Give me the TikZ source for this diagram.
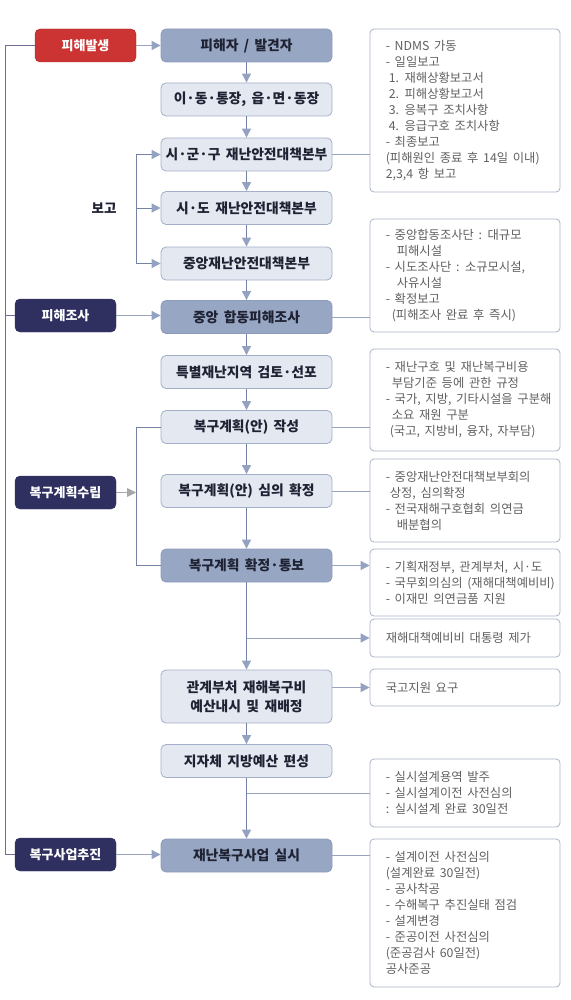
\documentclass[tikz,border=0pt]{standalone}
\usepackage{fontspec}
\setmainfont{Noto Sans CJK KR}[WordSpace=1.7]
\usetikzlibrary{arrows.meta}
\definecolor{redf}{HTML}{CC3333}
\definecolor{redd}{HTML}{A52525}
\definecolor{navy}{HTML}{2F2F60}
\definecolor{cdarkf}{HTML}{97A6C3}
\definecolor{cdarkd}{HTML}{8D9CBB}
\definecolor{clightf}{HTML}{E4E8F1}
\definecolor{clightd}{HTML}{A3AFC8}
\definecolor{rboxd}{HTML}{AAB3C9}
\definecolor{lnc}{HTML}{7482A6}
\definecolor{tipc}{HTML}{94A2C1}
\definecolor{leftln}{HTML}{6B6F9A}
\definecolor{rln}{HTML}{98A3C0}
\definecolor{greyarr}{HTML}{A8A8A8}
\definecolor{ctext}{HTML}{1E2233}
\definecolor{rtextc}{HTML}{606060}
\begin{document}
\begin{tikzpicture}[x=1pt,y=-1pt,
  basebox/.style={rounded corners=5pt, minimum width=171pt, minimum height=33pt, inner sep=0pt,
    font=\bfseries\fontsize{13.8}{19}\selectfont, text=ctext, align=center, line width=0.8pt},
  clight/.style={basebox, draw=clightd, fill=clightf},
  cdark/.style={basebox, draw=cdarkd, fill=cdarkf},
  lbox/.style={rounded corners=5pt, minimum width=101pt, minimum height=33pt, inner sep=0pt,
    font=\bfseries\fontsize{13}{15}\selectfont, text=white, fill=navy, draw=navy},
  redbox/.style={lbox, fill=redf, draw=redd},
  rbox/.style={rounded corners=4pt, minimum width=190pt, draw=rboxd, fill=white, line width=0.8pt, inner sep=0pt},
  rtext/.style={anchor=west, align=left, inner sep=0pt, text=rtextc, font=\fontsize{12.3}{16}\selectfont},
  ln/.style={draw=lnc, line width=0.9pt},
  arr/.style={ln, -{Triangle[width=9pt,length=9pt,color=tipc]}},
  rl/.style={draw=rln, line width=0.9pt},
  rarr/.style={rl, -{Triangle[width=9pt,length=9pt,color=tipc]}},
  gl/.style={draw=leftln, line width=0.9pt},
  garr/.style={draw=greyarr, line width=0.9pt, -{Triangle[width=9pt,length=9pt,color=greyarr]}}
]
\useasboundingbox (0,0) rectangle (570,1000);

% center column
\node[cdark]  (p1)  at (246.5,45.5)  {피해자 / 발견자};
\node[clight] (p2)  at (246.5,99.5)  {이·동·통장, 읍·면·동장};
\node[clight] (p3)  at (246.5,154.5) {시·군·구 재난안전대책본부};
\node[clight] (p4)  at (246.5,208)   {시·도 재난안전대책본부};
\node[clight] (p5)  at (246.5,263.5) {중앙재난안전대책본부};
\node[cdark]  (p6)  at (246.5,317)   {중앙 합동피해조사};
\node[clight] (p7)  at (246.5,372)   {특별재난지역 검토·선포};
\node[clight] (p8)  at (246.5,427)   {복구계획(안) 작성};
\node[clight] (p9)  at (246.5,491)   {복구계획(안) 심의 확정};
\node[cdark]  (p10) at (246.5,565.5) {복구계획 확정·통보};
\node[clight, minimum height=53pt] (p11) at (246.5,696.5) {관계부처 재해복구비\\예산내시 및 재배정};
\node[clight] (p12) at (246.5,761)   {지자체 지방예산 편성};
\node[cdark]  (p13) at (246.5,855.5) {재난복구사업 실시};

% left column
\node[redbox] (l1) at (85.5,45.5)  {피해발생};
\node[lbox]   (l2) at (65.5,315.5) {피해조사};
\node[lbox]   (l3) at (65.5,492.5) {복구계획수립};
\node[lbox]   (l4) at (65.5,854.5) {복구사업추진};

% right column boxes
\node[rbox, minimum height=163pt] (r1) at (465,110.5) {};
\node[rbox, minimum height=113pt] (r2) at (465,275.5) {};
\node[rbox, minimum height=102pt] (r3) at (465,400)   {};
\node[rbox, minimum height=83pt]  (r4) at (465,500.5) {};
\node[rbox, minimum height=67pt]  (r5) at (465,582.5) {};
\node[rbox, minimum height=38pt]  (r6) at (465,638)   {};
\node[rbox, minimum height=37pt]  (r7) at (465,687.5) {};
\node[rbox, minimum height=68pt]  (r8) at (465,793)   {};
\node[rbox, minimum height=148pt] (r9) at (465,913)   {};

\node[rtext] (t1) at ([xshift=16pt]r1.west) {- NDMS 가동\\- 일일보고\\\hspace*{3pt}1. 재해상황보고서\\\hspace*{3pt}2. 피해상황보고서\\\hspace*{3pt}3. 응복구 조치사항\\\hspace*{3pt}4. 응급구호 조치사항\\- 최종보고\\(피해원인 종료 후 14일 이내)\\2,3,4 항 보고};
\node[rtext] (t2) at ([xshift=16pt]r2.west) {- 중앙합동조사단 : 대규모\\\hspace*{11pt}피해시설\\- 시도조사단 : 소규모시설,\\\hspace*{11pt}사유시설\\- 확정보고\\\hspace*{6pt}(피해조사 완료 후 즉시)};
\node[rtext] (t3) at ([xshift=16pt]r3.west) {- 재난구호 및 재난복구비용\\\hspace*{6pt}부담기준 등에 관한 규정\\- 국가, 지방, 기타시설을 구분해\\\hspace*{6pt}소요 재원 구분\\\hspace*{4pt}(국고, 지방비, 융자, 자부담)};
\node[rtext] (t4) at ([xshift=16pt]r4.west) {- 중앙재난안전대책보부회의\\\hspace*{4pt}상정, 심의확정\\- 전국재해구호협회 의연금\\\hspace*{11pt}배분협의};
\node[rtext] (t5) at ([xshift=16pt]r5.west) {- 기획재정부, 관계부처, 시·도\\- 국무회의심의 (재해대책예비비)\\- 이재민 의연금품 지원};
\node[rtext] (t6) at ([xshift=16pt]r6.west) {재해대책예비비 대통령 제가};
\node[rtext] (t7) at ([xshift=16pt]r7.west) {국고지원 요구};
\node[rtext] (t8) at ([xshift=16pt]r8.west) {- 실시설계용역 발주\\- 실시설계이전 사전심의\\: 실시설계 완료 30일전};
\node[rtext] (t9) at ([xshift=16pt]r9.west) {- 설계이전 사전심의\\(설계완료 30일전)\\- 공사착공\\- 수해복구 추진실태 점검\\- 설계변경\\- 준공이전 사전심의\\(준공검사 60일전)\\공사준공};

% report label and branch coordinates
\coordinate (bx) at (136,0);
\coordinate (lx) at (5.5,0);
\node[font=\bfseries\fontsize{13.5}{15}\selectfont, text=ctext] (bogo) at (104,208) {보고};

% vertical flow
\draw[arr] (p1) -- (p2);
\draw[arr] (p2) -- (p3);
\draw[arr] (p3) -- (p4);
\draw[arr] (p4) -- (p5);
\draw[arr] (p5) -- (p6);
\draw[arr] (p6) -- (p7);
\draw[arr] (p7) -- (p8);
\draw[arr] (p8) -- (p9);
\draw[arr] (p9) -- (p10);
\draw[arr] (p10) -- (p11);
\draw[arr] (p11) -- (p12);
\draw[arr] (p12) -- (p13);

% left to center
\draw[rarr] (l1) -- (p1);
\draw[rarr] (l2.east) -- (p6.west |- l2.east);
\draw[rarr] (l4.east) -- (p13.west |- l4.east);
\draw[garr] (l3.east) -- (bx |- l3.east);

% left vertical line
\draw[gl] (l1.west) -- (lx |- l1.west) -- (lx |- l4.west) -- (l4.west);
\draw[gl] (lx |- l2.west) -- (l2.west);

% report branch
\draw[ln] (bx |- p3.west) -- (bx |- p5.west);
\draw[arr] (bx |- p3.west) -- (p3.west);
\draw[arr] (bx |- p4.west) -- (p4.west);
\draw[arr] (bx |- p5.west) -- (p5.west);

% planning branch
\draw[ln] (p8.west) -- (bx |- p8.west) -- (bx |- p10.west) -- (p10.west);

% center to right
\draw[rl] (p3.east) -- (r1.west |- p3.east);
\draw[rl] (p6.east) -- (r2.west |- p6.east);
\draw[rl] (p8.east) -- (r3.west |- p8.east);
\draw[rl] (p9.east) -- (r4.west |- p9.east);
\draw[rarr] (p10.east) -- (r5.west |- p10.east);
\draw[rarr] (p10.south |- r6.west) -- (r6.west);
\draw[rarr] (p11.east |- r7.west) -- (r7.west);
\draw[rl] (p12.south |- r8.west) -- (r8.west);
\draw[rl] (p13.east) -- (r9.west |- p13.east);
\end{tikzpicture}
\end{document}
